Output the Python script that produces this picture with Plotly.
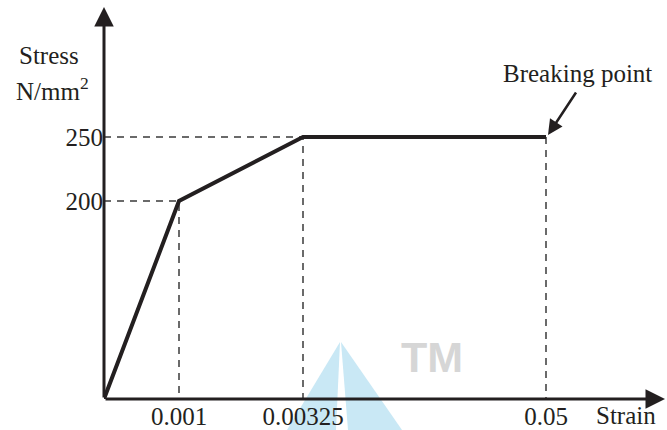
import numpy as np
import plotly.graph_objects as go

# ---- data ----
strain = [0.0, 0.001, 0.00325, 0.05]
stress = [0, 200, 250, 250]
strain_ticks = [0.001, 0.00325, 0.05]
strain_ticktext = ["0.001", "0.00325", "0.05"]
stress_ticks = [200, 250]
stress_ticktext = ["200", "250"]

# ---- schematic (non-linear) axis scales: value -> display position ----
X_SCALE_VAL = [0.0, 0.001, 0.00325, 0.05]
X_SCALE_POS = [0, 75, 199, 442]
Y_SCALE_VAL = [0, 200, 250]
Y_SCALE_POS = [0, 198, 262]

def sx(v):
    return np.interp(v, X_SCALE_VAL, X_SCALE_POS)

def sy(v):
    return np.interp(v, Y_SCALE_VAL, Y_SCALE_POS)

FONT = "Liberation Serif"
INK = "#231f20"
FS = 25
XR = 563
YR = 399

fig = go.Figure()

DASH = dict(color="#3a3a3a", width=1.5, dash="7px,6px")
# dashed guide lines (to axes) from the key points
for i in (1, 2):
    fig.add_trace(go.Scatter(x=[0, sx(strain[i]), sx(strain[i])],
                             y=[sy(stress[i]), sy(stress[i]), 0],
                             mode="lines", line=DASH, hoverinfo="skip", showlegend=False))
fig.add_trace(go.Scatter(x=[sx(strain[3]), sx(strain[3])], y=[sy(stress[3]), 0],
                         mode="lines", line=DASH, hoverinfo="skip", showlegend=False))

# stress-strain curve
fig.add_trace(go.Scatter(x=sx(strain), y=sy(stress), mode="lines",
                         line=dict(color=INK, width=4), hoverinfo="skip", showlegend=False))

# watermark (faint)
def py(d):
    return d / YR
fig.add_shape(type="path", path=f"M 236 {py(57)} L 183 {py(-31)} L 232 {py(-31)} Z",
              xref="x", yref="paper", fillcolor="#c9e8f5", line=dict(width=0), layer="below")
fig.add_shape(type="path", path=f"M 237 {py(57)} L 244 {py(-31)} L 298 {py(-31)} Z",
              xref="x", yref="paper", fillcolor="#c9e8f5", line=dict(width=0), layer="below")
fig.add_annotation(x=328, y=42, xref="x", yref="y", text="<b>TM</b>", showarrow=False,
                   font=dict(family="Arial", size=43, color="#d6d6d6"))

# axes with arrowheads
fig.add_annotation(x=0, y=392, ax=0, ay=0, xref="x", yref="y", axref="x", ayref="y",
                   text="", showarrow=True, arrowhead=2, arrowsize=1.3, arrowwidth=3,
                   arrowcolor=INK)
fig.add_annotation(x=561, y=0, ax=0, ay=0, xref="x", yref="y", axref="x", ayref="y",
                   text="", showarrow=True, arrowhead=2, arrowsize=1.3, arrowwidth=3,
                   arrowcolor=INK)

# axis labels
fig.add_annotation(x=0, xshift=-55, y=344, xref="paper", yref="y", text="Stress",
                   xanchor="center", yanchor="middle",
                   showarrow=False, font=dict(family=FONT, size=FS, color=INK))
fig.add_annotation(x=0, xshift=-52, y=310, xref="paper", yref="y", text="N/mm<sup>2</sup>",
                   xanchor="center", yanchor="middle",
                   showarrow=False, font=dict(family=FONT, size=FS, color=INK))
fig.add_annotation(x=522, y=0, yshift=-16, xref="x", yref="paper", text="Strain",
                   xanchor="center", yanchor="middle",
                   showarrow=False, font=dict(family=FONT, size=FS, color=INK))

# breaking point
fig.add_annotation(x=sx(strain[3]) + 2, y=sy(stress[3]) + 2, ax=sx(strain[3]) + 31,
                   ay=sy(stress[3]) + 46, xref="x", yref="y", axref="x", ayref="y",
                   text="", showarrow=True, arrowhead=2, arrowsize=1.2, arrowwidth=2.5,
                   arrowcolor=INK)
fig.add_annotation(x=sx(strain[3]) + 31, y=sy(stress[3]) + 64, xref="x", yref="y",
                   text="Breaking point", showarrow=False,
                   font=dict(family=FONT, size=FS, color=INK))

fig.update_layout(
    width=667, height=430,
    margin=dict(l=104, r=0, t=0, b=31),
    plot_bgcolor="white", paper_bgcolor="white",
    showlegend=False,
    xaxis=dict(range=[0, XR], showgrid=False, zeroline=False, showline=False,
               tickvals=list(sx(strain_ticks)), ticktext=strain_ticktext, ticks="",
               ticklabelstandoff=0, automargin=False,
               tickfont=dict(family=FONT, size=FS, color=INK), fixedrange=True),
    yaxis=dict(range=[0, YR], showgrid=False, zeroline=False, showline=False,
               tickvals=list(sy(stress_ticks)), ticktext=stress_ticktext, ticks="",
               automargin=False,
               tickfont=dict(family=FONT, size=FS, color=INK), fixedrange=True),
)

fig.write_html("out.html", config={"displayModeBar": False},
               post_script="document.body.style.margin='0';document.body.style.padding='0';")
